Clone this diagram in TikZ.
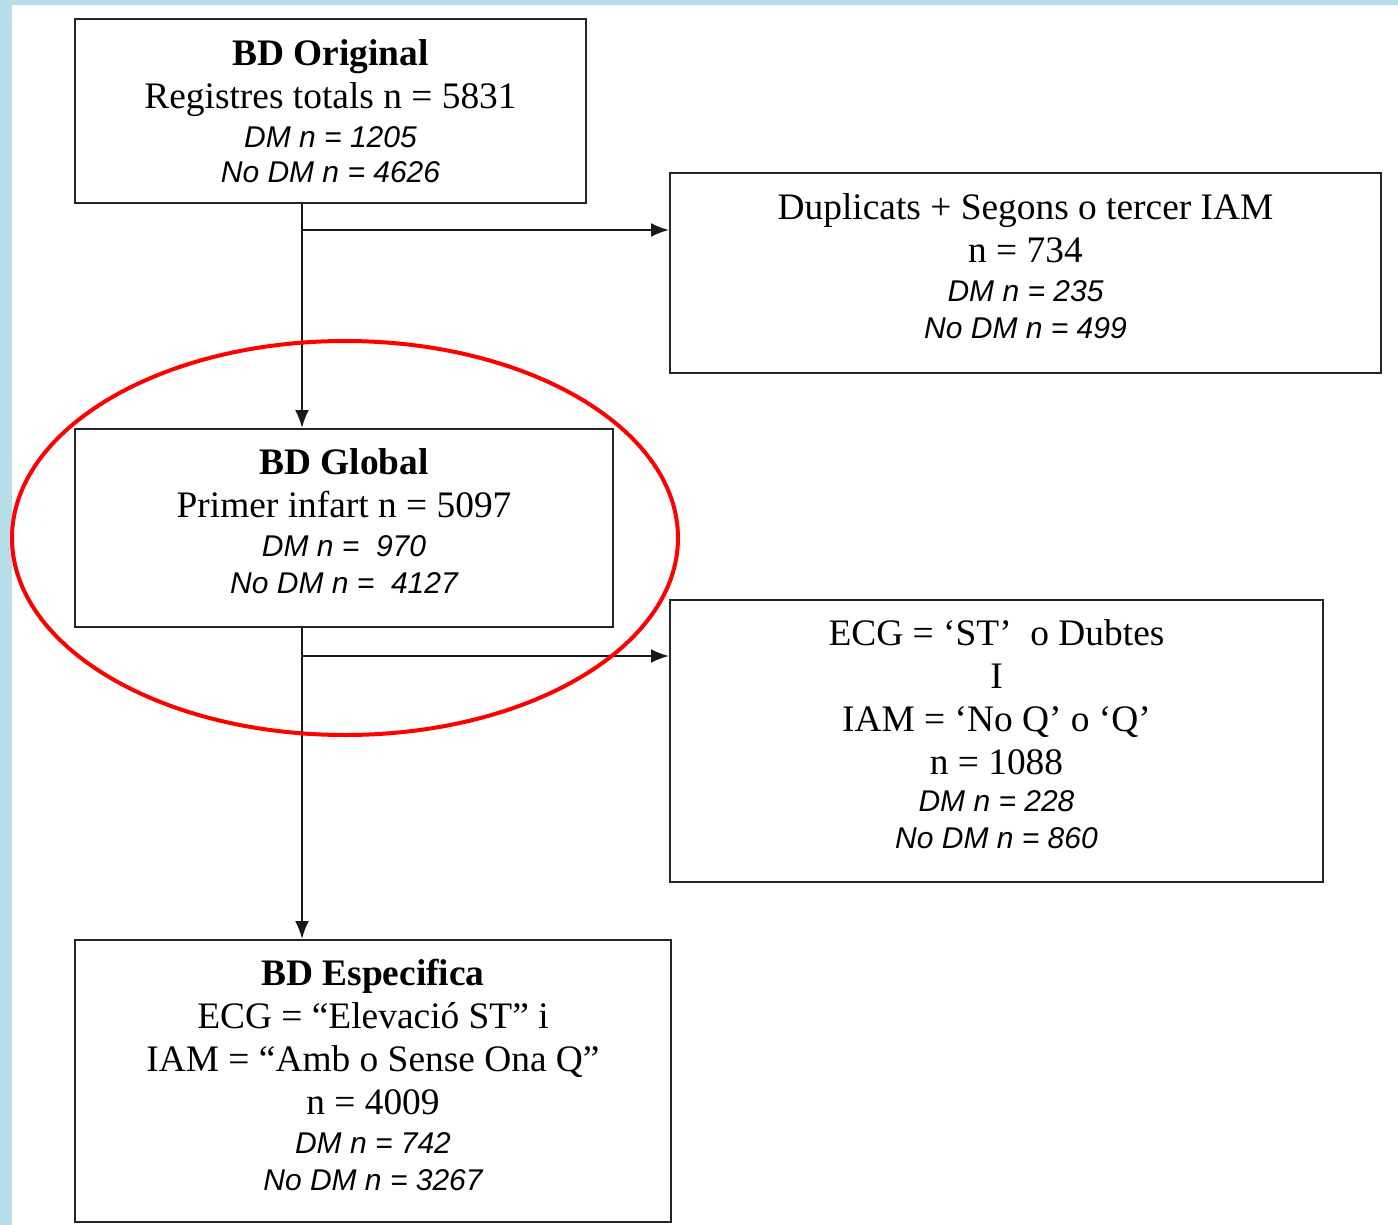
\documentclass[tikz,border=0pt]{standalone}
\usepackage{fontspec}
\setmainfont{Liberation Serif}
\newfontfamily\dmfont{Liberation Sans}
\usetikzlibrary{arrows.meta}
\definecolor{edgeblue}{RGB}{183,222,232}
\newcommand{\dmline}[1]{{\dmfont\itshape\fontsize{15}{16}\selectfont #1}}
\tikzset{%
  >={Latex[width=7pt,length=9pt]},
  % Specifications for style of nodes:
            base/.style = {rectangle, draw=black!85, line width=1pt,
                           inner sep=0pt, align=center,
                           font=\fontsize{18.7}{21.5}\selectfont},
       dbbox/.style = {base, text depth=6.5pt},
      connector/.style = {->, line width=1.1pt, draw=black!90},
}
\begin{document}
\begin{tikzpicture}[x=0.5pt, y=-0.5pt]
  % Background and frame strips
  \useasboundingbox (0,0) rectangle (1398,1225);
  \fill[white] (0,0) rectangle (1398,1225);
  \fill[edgeblue] (0,0) rectangle (12,1225);
  \fill[edgeblue] (0,0) rectangle (1398,5);
  % Specification of nodes (position, size)
  \node (orig) [base, minimum width=255.5pt, minimum height=92pt] at (330.5,111)
    {\textbf{BD Original}\\ Registres totals n = 5831\\[-2pt]
     \dmline{DM n = 1205}\\[-4pt] \dmline{No DM n = 4626}};
  \node (dup) [dbbox, minimum width=355.5pt, minimum height=100pt] at (1025.5,273)
    {Duplicats + Segons o tercer IAM\\ n = 734\\[-2pt]
     \dmline{DM n = 235}\\[-3pt] \dmline{No DM n = 499}};
  \node (global) [dbbox, minimum width=269pt, minimum height=99pt] at (344,528)
    {\textbf{BD Global}\\ Primer infart n = 5097\\[-2pt]
     \dmline{DM n = \ 970}\\[-3pt] \dmline{No DM n = \ 4127}};
  \node (ecg) [dbbox, minimum width=326.5pt, minimum height=141pt] at (996.5,741)
    {ECG = ‘ST’ \ o Dubtes\\ I\\ IAM = ‘No Q’ o ‘Q’\\ n = 1088\\[-3pt]
     \dmline{DM n = 228}\\[-3pt] \dmline{No DM n = 860}};
  \node (esp) [dbbox, minimum width=298pt, minimum height=141pt] at (373,1081)
    {\textbf{BD Especifica}\\ ECG = “Elevació ST” i\\ IAM = “Amb o Sense Ona Q”\\
     n = 4009\\[-2pt] \dmline{DM n = 742}\\[-3pt] \dmline{No DM n = 3267}};
  % Branching points of the main line
  \coordinate (split1) at (302,230);
  \coordinate (split2) at (302,656);
  % Specification of lines between nodes specified above
  \draw[connector] (orig.south -| split1) -- (global.north -| split1);
  \draw[connector] (split1) -- (dup.west |- split1);
  \draw[connector] (global.south -| split2) -- (esp.north -| split2);
  \draw[connector] (split2) -- (ecg.west |- split2);
  % Highlight round the global base
  \draw[red, line width=2pt] (345,538) ellipse [x radius=166.5pt, y radius=98.5pt];
\end{tikzpicture}
\end{document}
